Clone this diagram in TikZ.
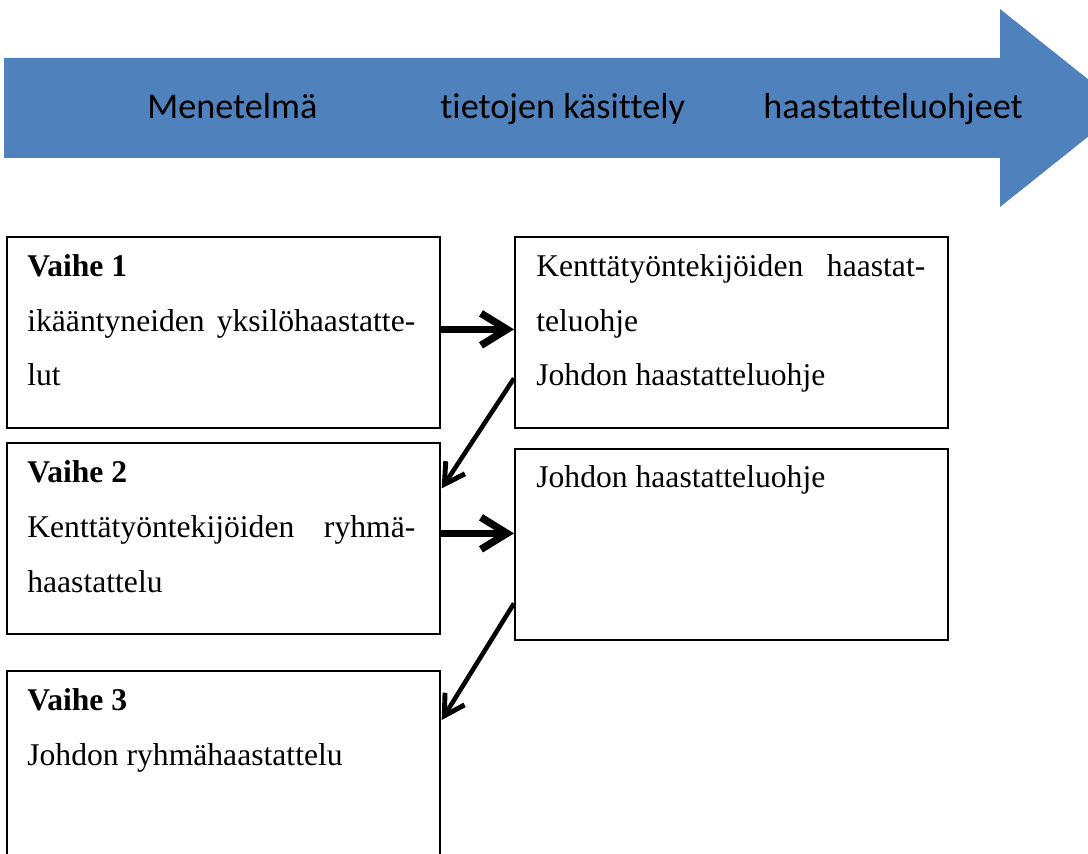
\documentclass[tikz,border=0pt]{standalone}
\usepackage{fontspec}
\setmainfont{Liberation Serif}
\newfontfamily\bannerfont[Ligatures=NoCommon]{Carlito}
\usetikzlibrary{arrows.meta,calc}
\tikzset {>=Stealth}
\definecolor{bannerblue}{HTML}{4F81BD}

\begin{document}
\begin{tikzpicture}[x=0.02cm,y=-0.02cm,
  stagebox/.style={draw,line width=1pt,anchor=north west,inner sep=0pt,
    minimum width=8.66cm,minimum height=3.82cm},
  stagetext/.style={anchor=base west,inner sep=0pt,align=left,
    font=\fontsize{18}{31.3}\selectfont},
  bannertext/.style={anchor=base west,inner sep=0pt,
    font=\bannerfont\fontsize{20.6}{24}\selectfont},
  bigarrow/.style={-{Straight Barb[length=0.52cm,width=0.64cm,line width=4.2pt]},line width=4.2pt},
  thinarrow/.style={-{Straight Barb[length=0.4cm,width=0.46cm,line width=2.8pt]},line width=2.6pt}]
\useasboundingbox (0,0) rectangle (1088,854);

% banner
\fill[bannerblue] (4,58) -- (1000,58) -- (1000,9) -- (1124,108)
  -- (1000,207) -- (1000,158) -- (4,158) -- cycle;
\node[bannertext] (b1) at (147,119) {Menetelmä};
\node[bannertext] (b2) at (440,119) {tietojen käsittely};
\node[bannertext] (b3) at (763,119) {haastatteluohjeet};

% boxes
\node[stagebox] (v1) at (6,236) {};
\node[stagebox] (r1) at (514,236) {};
\node[stagebox] (v2) at (6,442) {};
\node[stagebox] (r2) at (514,448) {};
\node[stagebox,minimum height=4.3cm] (v3) at (6,670) {};

% text, placed by its last line
\node[stagetext] (v1t) at (27,386) {\textbf{Vaihe 1}\\
  \makebox[7.76cm][s]{ikääntyneiden yksilöhaastatte-}\\ lut};
\node[stagetext] (r1t) at (536,386) {\makebox[7.78cm][s]{Kenttätyöntekijöiden haastat-}\\
  teluohje\\ Johdon haastatteluohje};
\node[stagetext] (v2t) at (27,592) {\textbf{Vaihe 2}\\
  \makebox[7.76cm][s]{Kenttätyöntekijöiden ryhmä-}\\ haastattelu};
\node[stagetext] (r2t) at (536,487) {Johdon haastatteluohje};
\node[stagetext] (v3t) at (27,765) {\textbf{Vaihe 3}\\ Johdon ryhmähaastattelu};

% arrows
\draw[bigarrow] ($(v1.east)+(0,-3)$) -- ($(r1.west)+(0,-3)$);
\draw[thinarrow] ($(r1.west)+(0,46)$) -- ($(v2.east)+(1,-50)$);
\draw[bigarrow] ($(v2.east)+(0,-5)$) -- ($(r2.west)+(0,-11)$);
\draw[thinarrow] ($(r2.west)+(0,59)$) -- ($(v3.north east)+(1,50)$);
\end{tikzpicture}
\end{document}
